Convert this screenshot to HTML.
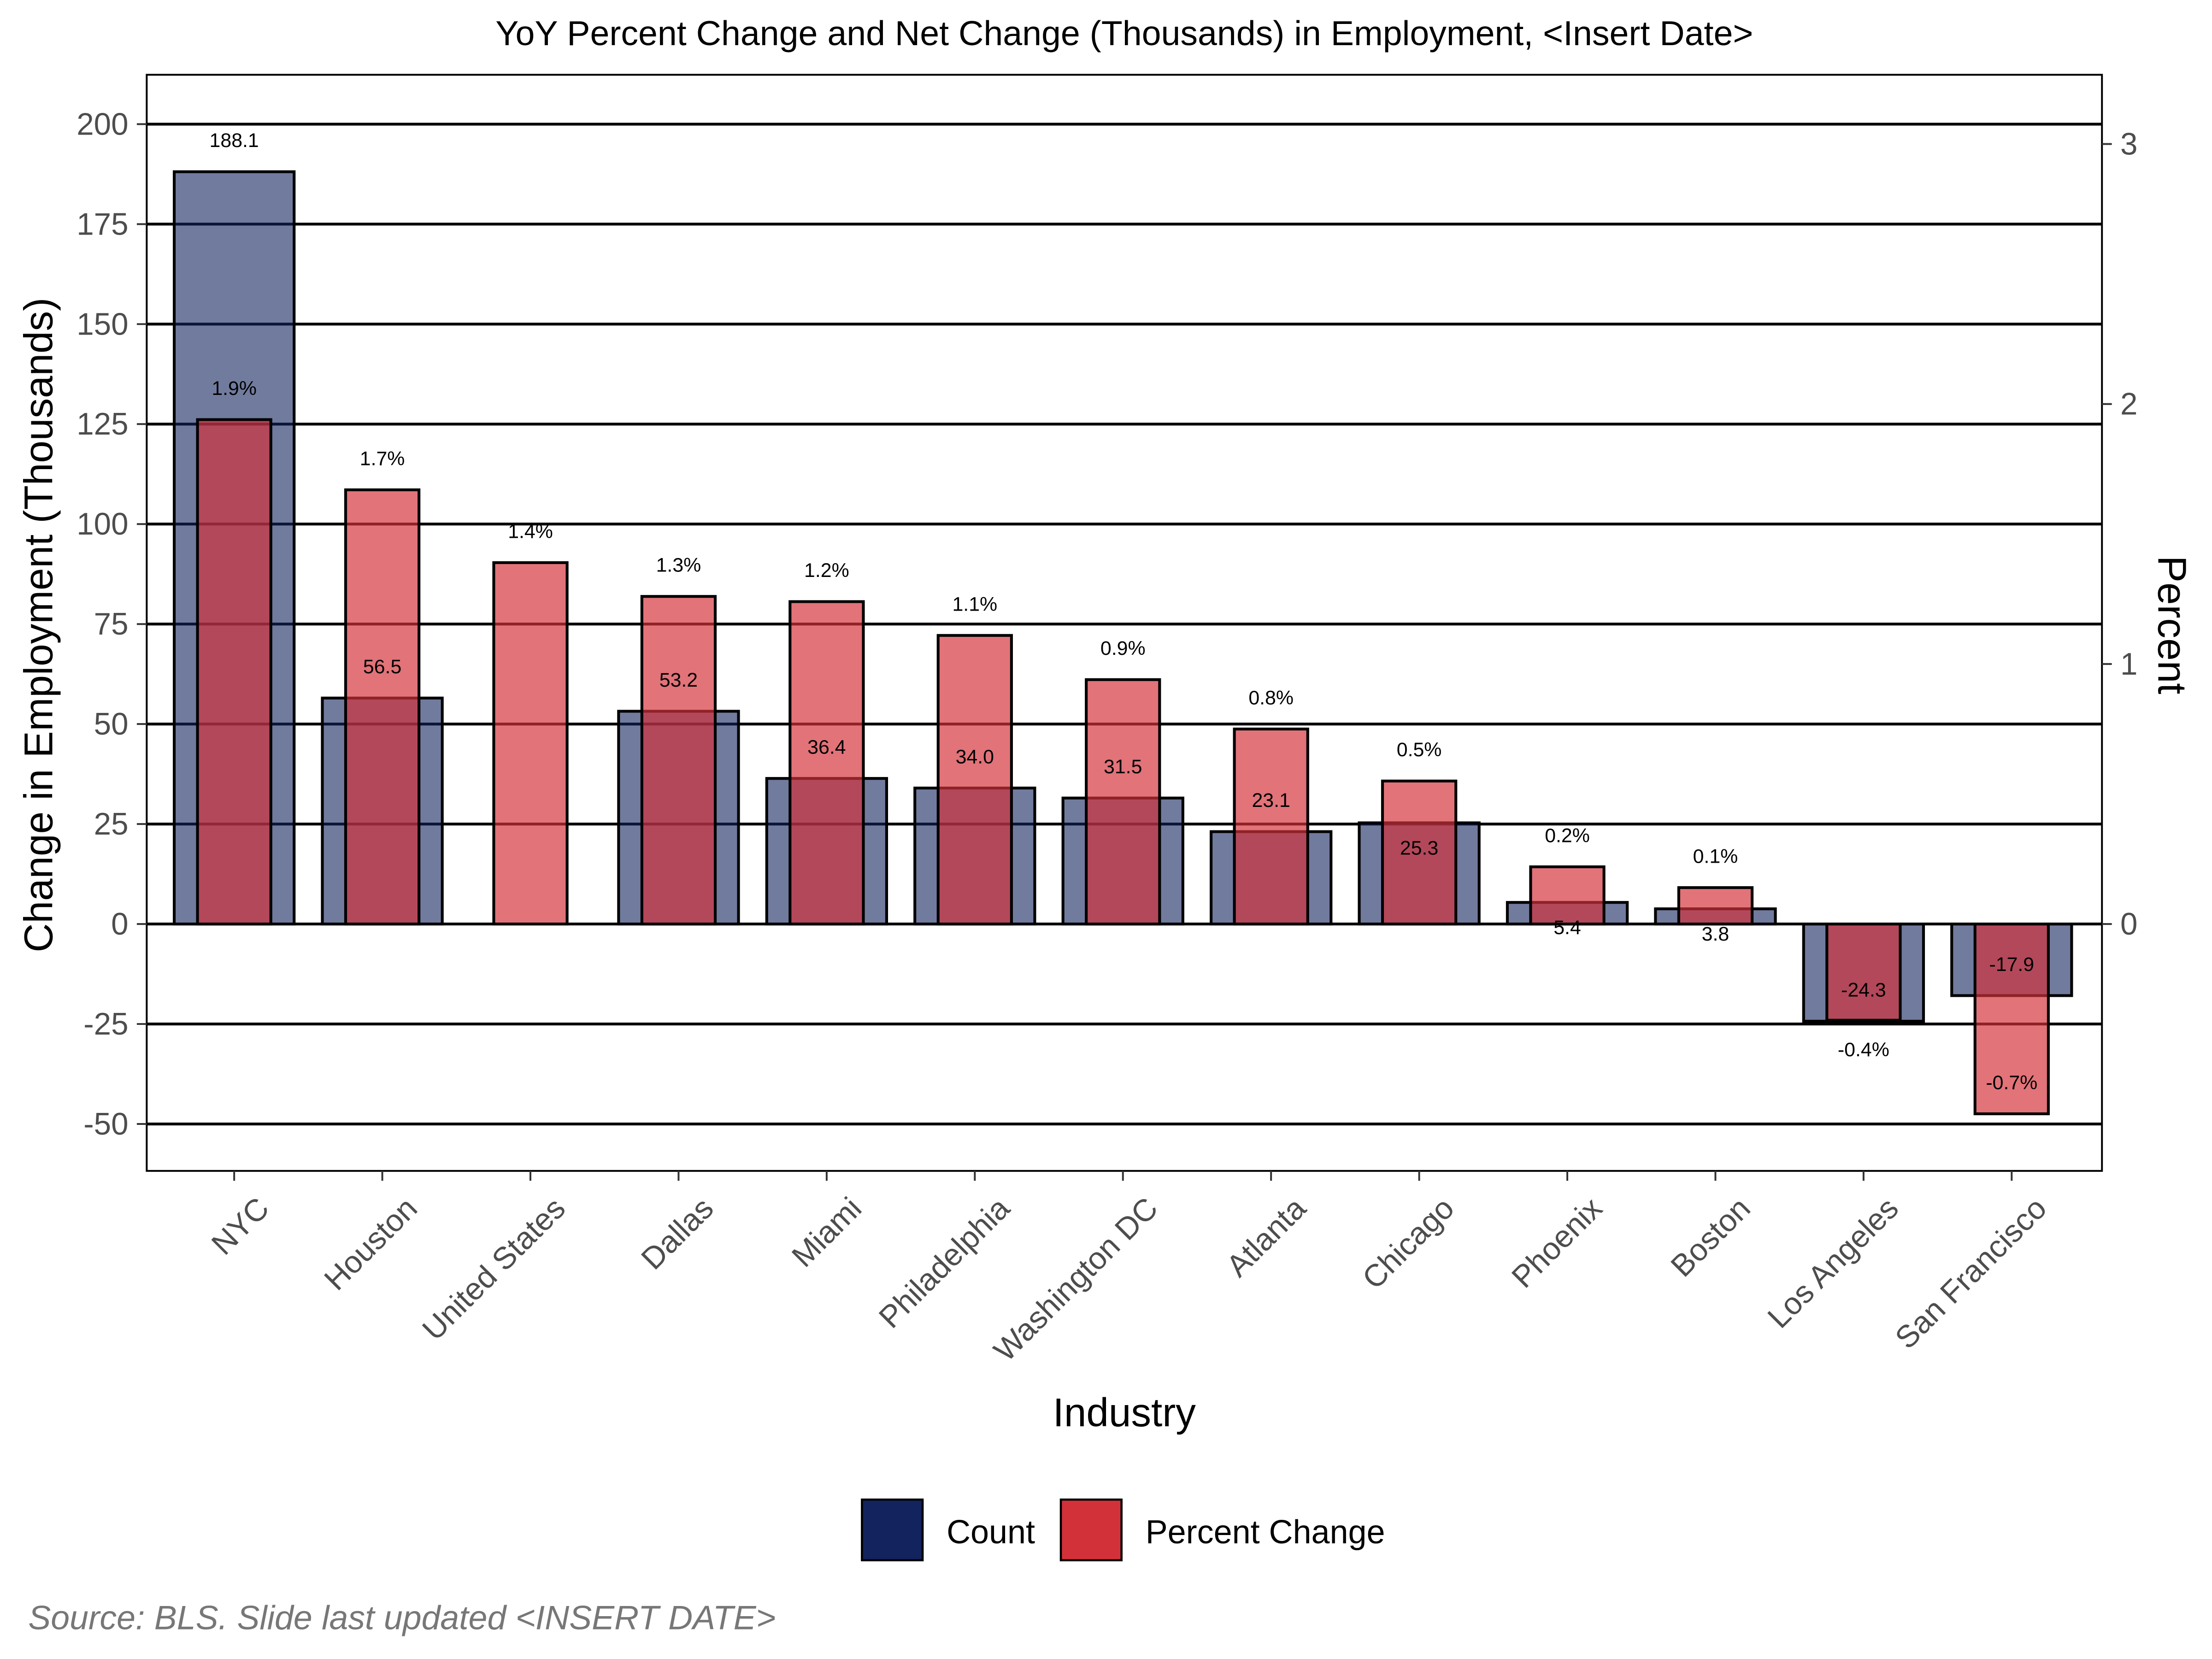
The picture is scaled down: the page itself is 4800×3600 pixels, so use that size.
<!DOCTYPE html>
<html><head><meta charset="utf-8"><style>
html,body{margin:0;padding:0;background:#fff}
svg{display:block}
text{font-family:"Liberation Sans",sans-serif}
</style></head><body>
<svg id="chart" width="4800" height="3600" viewBox="0 0 1568 1176" xmlns="http://www.w3.org/2000/svg">
<rect width="1568" height="1176" fill="#fff"/>
<text x="797" y="32" font-size="24.6" text-anchor="middle">YoY Percent Change and Net Change (Thousands) in Employment, &lt;Insert Date&gt;</text>
<g id="grid"></g>
<g id="bars"></g>
<g id="labels"></g>
<rect x="104" y="53" width="1386" height="777" fill="none" stroke="#000" stroke-width="1.3"/>
<g id="axes"></g>
<text transform="translate(37,443) rotate(-90)" font-size="28.5" text-anchor="middle">Change in Employment (Thousands)</text>
<text transform="translate(1530,443) rotate(90)" font-size="28.5" text-anchor="middle">Percent</text>
<text x="797" y="1011" font-size="28.5" text-anchor="middle">Industry</text>
<g>
<rect x="611" y="1063" width="43" height="43" fill="#13235e" stroke="#000" stroke-width="1.5"/>
<text x="671" y="1094" font-size="23.5">Count</text>
<rect x="752" y="1063" width="43" height="43" fill="#d3313a" stroke="#000" stroke-width="1.5"/>
<text x="812" y="1094" font-size="23.5">Percent Change</text>
</g>
<text x="20" y="1155" font-size="24" font-style="italic" fill="#777">Source: BLS. Slide last updated &lt;INSERT DATE&gt;</text>
</svg>
<script>
const categories=["NYC","Houston","United States","Dallas","Miami","Philadelphia","Washington DC","Atlanta","Chicago","Phoenix","Boston","Los Angeles","San Francisco"];
const counts=[188.1,56.5,null,53.2,36.4,34.0,31.5,23.1,25.3,5.4,3.8,-24.3,-17.9];
const countLabelBelow=[false,false,false,false,false,false,false,false,true,true,true,false,false];
const percents=[1.94,1.67,1.39,1.26,1.24,1.11,0.94,0.75,0.55,0.22,0.14,-0.37,-0.73];
const pctLabels=["1.9%","1.7%","1.4%","1.3%","1.2%","1.1%","0.9%","0.8%","0.5%","0.2%","0.1%","-0.4%","-0.7%"];
const yTicks=[-50,-25,0,25,50,75,100,125,150,175,200];
const y2Ticks=[0,1,2,3];
const NS="http://www.w3.org/2000/svg";
const y=v=>655-v*(567/200);
const y2=v=>655-v*184.3;
const x=i=>166+i*105;
function mk(tag,attrs,parent,txt){const e=document.createElementNS(NS,tag);for(const k in attrs)e.setAttribute(k,attrs[k]);if(txt!==undefined)e.textContent=txt;parent.appendChild(e);return e;}
const grid=document.getElementById('grid'),bars=document.getElementById('bars'),labels=document.getElementById('labels'),axes=document.getElementById('axes');
yTicks.forEach(t=>{
 const l=mk('line',{x1:104,x2:1490,y1:y(t),y2:y(t),stroke:'#000','stroke-width':2},grid);
 
 
 const tk=mk('line',{x1:97,x2:104,y1:y(t),y2:y(t),stroke:'#333','stroke-width':1.3},axes);
 
 
 const tx=mk('text',{x:91,y:y(t)+7.5,'font-size':22,fill:'#4d4d4d','text-anchor':'end'},axes,String(t));
 
 
});
y2Ticks.forEach(t=>{
 const tk=mk('line',{x1:1490,x2:1497,y1:y2(t),y2:y2(t),stroke:'#333','stroke-width':1.3},axes);
 
 
 const tx=mk('text',{x:1503,y:y2(t)+7.5,'font-size':22,fill:'#4d4d4d'},axes,String(t));
 
 
});
categories.forEach((c,i)=>{
 const cx=x(i);
 const tk=mk('line',{x1:cx,x2:cx,y1:830,y2:837,stroke:'#333','stroke-width':1.3},axes);
 
 
 const tx=mk('text',{transform:`translate(${cx+26},858) rotate(-45)`,'font-size':22,fill:'#4d4d4d','text-anchor':'end'},axes,c);
 
 
 const v=counts[i];
 if(v!==null){
  const top=Math.min(y(v),y(0)),h=Math.abs(y(v)-y(0));
  const b=mk('rect',{x:cx-42.5,y:top,width:85,height:h,fill:'#13235e','fill-opacity':0.6,stroke:'#000','stroke-width':2},bars);
  
  
  let ly=countLabelBelow[i]?y(v)+18:y(v)-22;
  const lt=mk('text',{x:cx,y:ly+4.5,'font-size':14,'text-anchor':'middle'},labels,v.toFixed(1));
  
  
 }
 const p=percents[i];
 const pt=Math.min(y2(p),y2(0)),ph=Math.abs(y2(p)-y2(0));
 const pb=mk('rect',{x:cx-26,y:pt,width:52,height:ph,fill:'#d3313a','fill-opacity':0.68,stroke:'#000','stroke-width':2},bars);
 
 
 let py=(p>=0||p<-0.5)?y2(p)-22:y2(p)+21;
 const pl=mk('text',{x:cx,y:py+4.5,'font-size':14,'text-anchor':'middle'},labels,pctLabels[i]);
 
 
});
</script>
</body></html>
